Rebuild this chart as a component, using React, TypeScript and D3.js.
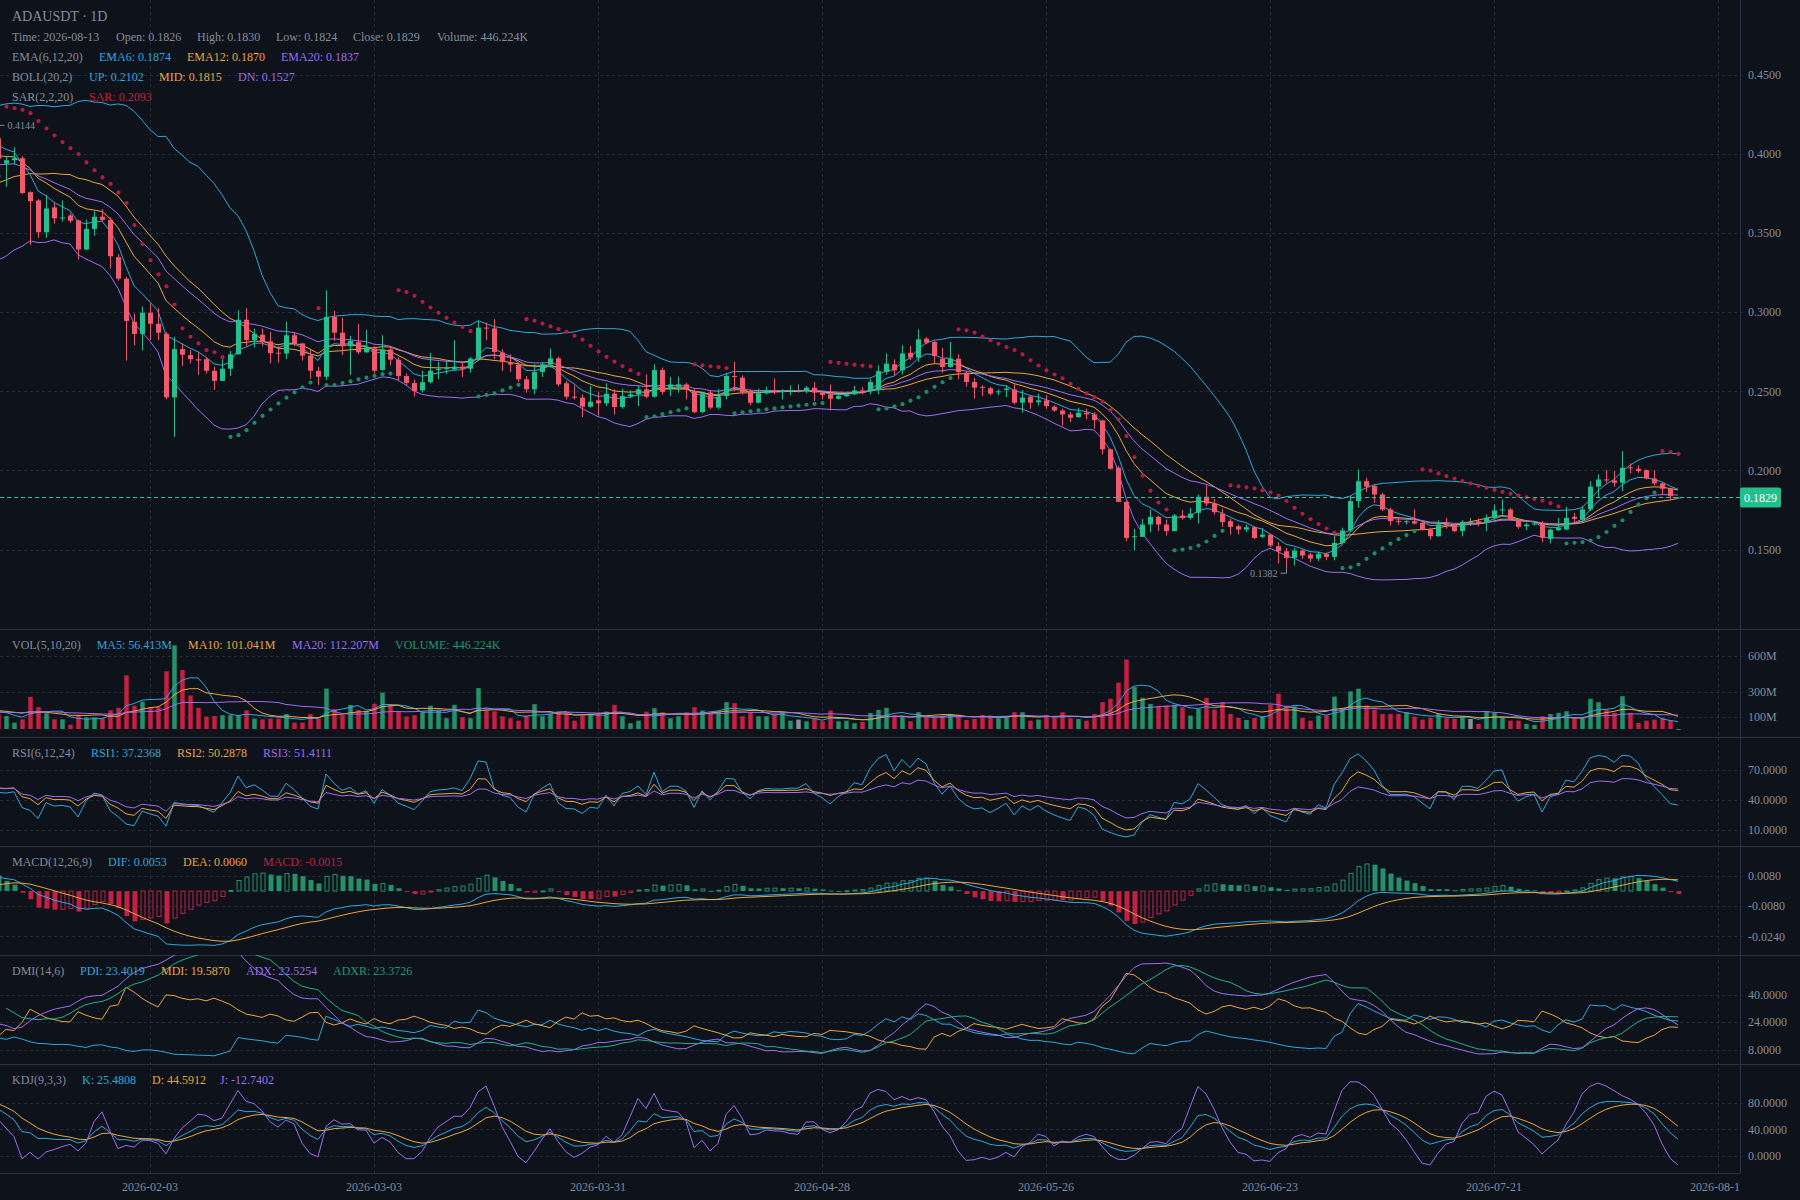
import React, { useMemo } from "react";
import * as d3 from "d3";

// ---------------- DATA ----------------
const SYMBOL = "ADAUSDT · 1D";
const START_DATE = "2026-01-15"; // first candle of the visible window

// candles before the visible window (indicator warm-up)
const PRE_OPEN = [0.405,0.402,0.398,0.405,0.396,0.390,0.394,0.386,0.380,0.384,0.374,0.366,0.360,0.354,0.358,0.350,0.356,0.364,0.352,0.372,0.362,0.384,0.372,0.396,0.384,0.408,0.396,0.420,0.426,0.414];
const PRE_HIGH = [0.409,0.406,0.409,0.409,0.400,0.398,0.398,0.390,0.388,0.388,0.378,0.370,0.364,0.362,0.362,0.360,0.368,0.366,0.376,0.374,0.388,0.386,0.400,0.398,0.412,0.410,0.424,0.430,0.428,0.418];
const PRE_LOW = [0.398,0.394,0.394,0.392,0.386,0.386,0.382,0.376,0.376,0.370,0.362,0.356,0.350,0.350,0.346,0.346,0.354,0.338,0.349,0.342,0.359,0.354,0.369,0.366,0.381,0.378,0.393,0.416,0.398,0.396];
const PRE_CLOSE = [0.402,0.398,0.405,0.396,0.390,0.394,0.386,0.380,0.384,0.374,0.366,0.360,0.354,0.358,0.350,0.356,0.364,0.352,0.372,0.362,0.384,0.372,0.396,0.384,0.408,0.396,0.420,0.426,0.414,0.411];
const PRE_VOLUME = [110,95,88,102,120,96,90,105,98,115,130,108,125,99,118,140,112,135,150,118,145,160,128,150,170,185,140,165,150,130];

const OPEN = [
0.4100,0.3940,0.3961,0.3974,0.3759,0.3707,0.3506,0.3663,0.3594,0.3612,
0.3581,0.3397,0.3527,0.3604,0.3584,0.3348,0.3212,0.2940,0.2863,0.2997,
0.2927,0.2863,0.2462,0.2767,0.2729,0.2703,0.2703,0.2630,0.2566,0.2643,
0.2734,0.2953,0.2824,0.2858,0.2816,0.2744,0.2739,0.2855,0.2803,0.2726,
0.2630,0.2592,0.2971,0.2871,0.2785,0.2811,0.2747,0.2772,0.2635,0.2765,
0.2700,0.2597,0.2553,0.2506,0.2558,0.2635,0.2643,0.2639,0.2656,0.2643,
0.2707,0.2903,0.2898,0.2745,0.2681,0.2669,0.2576,0.2513,0.2622,0.2671,
0.2709,0.2551,0.2466,0.2460,0.2403,0.2443,0.2424,0.2485,0.2401,0.2470,
0.2481,0.2513,0.2466,0.2635,0.2513,0.2530,0.2544,0.2502,0.2369,0.2492,
0.2397,0.2470,0.2597,0.2587,0.2502,0.2428,0.2487,0.2506,0.2500,0.2502,
0.2506,0.2506,0.2523,0.2492,0.2481,0.2453,0.2470,0.2481,0.2506,0.2502,
0.2508,0.2622,0.2671,0.2633,0.2744,0.2713,0.2833,0.2812,0.2706,0.2654,
0.2706,0.2618,0.2559,0.2529,0.2519,0.2497,0.2508,0.2512,0.2428,0.2466,
0.2432,0.2443,0.2403,0.2379,0.2354,0.2337,0.2365,0.2354,0.2316,0.2133,
0.2017,0.1801,0.1580,0.1580,0.1658,0.1706,0.1658,0.1616,0.1715,0.1700,
0.1732,0.1833,0.1791,0.1727,0.1679,0.1647,0.1626,0.1641,0.1580,0.1594,
0.1521,0.1489,0.1447,0.1494,0.1468,0.1443,0.1472,0.1453,0.1542,0.1620,
0.1806,0.1932,0.1901,0.1848,0.1753,0.1681,0.1675,0.1679,0.1668,0.1626,
0.1584,0.1660,0.1658,0.1616,0.1675,0.1679,0.1675,0.1700,0.1747,0.1753,
0.1685,0.1647,0.1660,0.1664,0.1567,0.1622,0.1626,0.1707,0.1690,0.1753,
0.1897,0.1943,0.1937,0.1922,0.2019,0.2010,0.2002,0.1949,0.1918,0.1884,
0.1826];
const HIGH = [
0.4144,0.3987,0.4043,0.3987,0.3765,0.3715,0.3741,0.3689,0.3707,0.3625,
0.3585,0.3586,0.3638,0.3651,0.3599,0.3367,0.3224,0.2992,0.3036,0.3057,
0.3026,0.2876,0.2845,0.2803,0.2760,0.2747,0.2716,0.2656,0.2703,0.2755,
0.3013,0.3026,0.2896,0.2896,0.2876,0.2785,0.2940,0.2871,0.2806,0.2760,
0.2656,0.3139,0.3010,0.2966,0.2850,0.2927,0.2889,0.2785,0.2855,0.2785,
0.2716,0.2612,0.2574,0.2630,0.2742,0.2686,0.2690,0.2823,0.2686,0.2719,
0.2945,0.2934,0.2956,0.2766,0.2734,0.2681,0.2597,0.2671,0.2686,0.2770,
0.2719,0.2565,0.2538,0.2481,0.2534,0.2498,0.2551,0.2513,0.2517,0.2506,
0.2534,0.2608,0.2671,0.2650,0.2590,0.2593,0.2555,0.2513,0.2496,0.2502,
0.2513,0.2614,0.2686,0.2601,0.2513,0.2517,0.2530,0.2582,0.2513,0.2538,
0.2543,0.2534,0.2559,0.2502,0.2543,0.2481,0.2491,0.2534,0.2527,0.2576,
0.2664,0.2740,0.2702,0.2791,0.2787,0.2892,0.2844,0.2818,0.2776,0.2812,
0.2734,0.2628,0.2586,0.2538,0.2529,0.2512,0.2538,0.2544,0.2508,0.2474,
0.2485,0.2476,0.2411,0.2390,0.2369,0.2396,0.2390,0.2369,0.2322,0.2137,
0.2027,0.1805,0.1630,0.1694,0.1753,0.1715,0.1689,0.1725,0.1749,0.1763,
0.1848,0.1905,0.1820,0.1757,0.1694,0.1658,0.1658,0.1647,0.1637,0.1599,
0.1546,0.1510,0.1510,0.1500,0.1479,0.1489,0.1479,0.1589,0.1637,0.1838,
0.2006,0.1954,0.1911,0.1859,0.1764,0.1700,0.1685,0.1753,0.1679,0.1637,
0.1685,0.1700,0.1664,0.1685,0.1700,0.1696,0.1721,0.1785,0.1816,0.1764,
0.1694,0.1669,0.1679,0.1679,0.1631,0.1700,0.1770,0.1732,0.1774,0.1932,
0.1975,0.2002,0.1996,0.2122,0.2044,0.2032,0.2006,0.2002,0.1922,0.1890,
0.1830];
const LOW = [
0.3950,0.3793,0.3935,0.3749,0.3426,0.3470,0.3470,0.3560,0.3573,0.3565,
0.3333,0.3392,0.3483,0.3573,0.3276,0.3199,0.2695,0.2790,0.2759,0.2824,
0.2824,0.2449,0.2212,0.2661,0.2677,0.2604,0.2612,0.2509,0.2566,0.2597,
0.2734,0.2785,0.2778,0.2785,0.2677,0.2682,0.2705,0.2785,0.2695,0.2579,
0.2540,0.2571,0.2819,0.2729,0.2604,0.2734,0.2742,0.2612,0.2630,0.2664,
0.2571,0.2540,0.2468,0.2493,0.2550,0.2576,0.2610,0.2629,0.2591,0.2618,
0.2692,0.2823,0.2703,0.2629,0.2622,0.2559,0.2492,0.2481,0.2591,0.2650,
0.2530,0.2449,0.2449,0.2337,0.2397,0.2348,0.2407,0.2354,0.2390,0.2456,
0.2407,0.2456,0.2460,0.2481,0.2470,0.2492,0.2449,0.2361,0.2361,0.2386,
0.2386,0.2449,0.2502,0.2481,0.2411,0.2424,0.2481,0.2481,0.2449,0.2475,
0.2492,0.2487,0.2439,0.2449,0.2386,0.2449,0.2464,0.2477,0.2481,0.2481,
0.2481,0.2607,0.2601,0.2607,0.2698,0.2685,0.2797,0.2677,0.2618,0.2649,
0.2576,0.2529,0.2455,0.2470,0.2474,0.2476,0.2464,0.2417,0.2365,0.2390,
0.2411,0.2390,0.2371,0.2284,0.2305,0.2333,0.2322,0.2263,0.2101,0.2006,
0.1799,0.1552,0.1495,0.1580,0.1609,0.1616,0.1588,0.1616,0.1689,0.1689,
0.1664,0.1774,0.1721,0.1643,0.1595,0.1595,0.1611,0.1567,0.1573,0.1516,
0.1411,0.1382,0.1398,0.1441,0.1420,0.1426,0.1432,0.1432,0.1542,0.1610,
0.1764,0.1863,0.1795,0.1743,0.1652,0.1658,0.1658,0.1658,0.1622,0.1563,
0.1580,0.1631,0.1610,0.1584,0.1648,0.1648,0.1616,0.1690,0.1721,0.1685,
0.1631,0.1622,0.1652,0.1546,0.1538,0.1616,0.1622,0.1669,0.1685,0.1743,
0.1827,0.1922,0.1897,0.1869,0.1981,0.1985,0.1943,0.1905,0.1848,0.1812,
0.1824];
const CLOSE = [
0.3970,0.3961,0.3974,0.3754,0.3702,0.3506,0.3656,0.3594,0.3599,0.3578,
0.3397,0.3527,0.3604,0.3584,0.3354,0.3212,0.2945,0.2863,0.2997,0.2927,
0.2870,0.2462,0.2767,0.2731,0.2703,0.2695,0.2630,0.2566,0.2643,0.2734,
0.2953,0.2824,0.2863,0.2811,0.2741,0.2739,0.2855,0.2803,0.2726,0.2630,
0.2592,0.2971,0.2871,0.2785,0.2819,0.2747,0.2778,0.2630,0.2765,0.2700,
0.2597,0.2553,0.2501,0.2558,0.2630,0.2643,0.2647,0.2656,0.2643,0.2707,
0.2903,0.2898,0.2749,0.2686,0.2669,0.2576,0.2513,0.2622,0.2671,0.2709,
0.2544,0.2466,0.2462,0.2403,0.2434,0.2424,0.2485,0.2401,0.2470,0.2481,
0.2513,0.2466,0.2635,0.2496,0.2544,0.2544,0.2513,0.2369,0.2487,0.2397,
0.2466,0.2597,0.2593,0.2492,0.2428,0.2487,0.2506,0.2502,0.2502,0.2506,
0.2506,0.2523,0.2492,0.2477,0.2453,0.2470,0.2481,0.2506,0.2502,0.2559,
0.2628,0.2675,0.2633,0.2740,0.2713,0.2829,0.2808,0.2723,0.2654,0.2706,
0.2622,0.2559,0.2523,0.2527,0.2485,0.2500,0.2517,0.2428,0.2460,0.2428,
0.2443,0.2407,0.2379,0.2354,0.2333,0.2365,0.2354,0.2318,0.2133,0.2010,
0.1801,0.1573,0.1584,0.1658,0.1706,0.1658,0.1616,0.1715,0.1700,0.1727,
0.1833,0.1791,0.1736,0.1673,0.1643,0.1626,0.1641,0.1573,0.1594,0.1525,
0.1489,0.1447,0.1493,0.1462,0.1443,0.1472,0.1453,0.1542,0.1620,0.1806,
0.1932,0.1897,0.1848,0.1753,0.1679,0.1677,0.1679,0.1664,0.1626,0.1584,
0.1658,0.1656,0.1616,0.1675,0.1675,0.1668,0.1700,0.1747,0.1753,0.1690,
0.1643,0.1658,0.1664,0.1574,0.1626,0.1637,0.1700,0.1694,0.1753,0.1897,
0.1943,0.1939,0.1922,0.2017,0.2015,0.1996,0.1949,0.1918,0.1884,0.1837,
0.1829];
const VOLUME = [ // millions
120,106,52,79,263,179,129,79,79,35,
113,95,95,85,153,173,438,190,223,179,
179,471,683,481,274,173,102,106,113,113,
113,153,85,79,85,85,122,52,52,122,
85,330,163,113,196,156,146,206,297,196,
139,102,113,136,190,151,88,197,96,88,
334,151,145,104,88,68,110,203,104,123,
142,137,68,110,123,123,142,197,104,47,
68,142,170,137,88,104,137,178,151,129,
142,219,211,104,137,104,104,123,137,68,
77,63,88,63,151,63,68,47,58,131,
156,173,115,101,63,137,96,96,110,123,
110,74,82,115,101,88,96,137,137,68,
77,115,96,137,88,82,68,123,219,247,
378,567,342,255,205,186,192,197,178,110,
164,255,159,219,123,90,74,90,104,197,
288,192,185,90,68,110,110,265,170,307,
329,192,159,123,123,123,137,101,77,90,
123,88,82,104,82,41,142,132,96,68,
68,41,33,104,123,132,145,88,90,247,
219,156,132,268,132,49,68,77,88,68,
0.446];

const TICK_DATES = ["2026-02-03","2026-03-03","2026-03-31","2026-04-28","2026-05-26","2026-06-23","2026-07-21","2026-08-18"];
const PRICE_TICKS = [0.15,0.20,0.25,0.30,0.35,0.40,0.45];
const VOL_TICKS = [100,300,600];
const RSI_TICKS = [10,40,70];
const MACD_TICKS = [0.008,-0.008,-0.024];
const DMI_TICKS = [8,24,40];
const KDJ_TICKS = [0,40,80];

const INFO_ROW = ["Time: 2026-08-13","Open: 0.1826","High: 0.1830","Low: 0.1824","Close: 0.1829","Volume: 446.224K"];
const EMA_ROW = ["EMA(6,12,20)","EMA6: 0.1874","EMA12: 0.1870","EMA20: 0.1837"];
const BOLL_ROW = ["BOLL(20,2)","UP: 0.2102","MID: 0.1815","DN: 0.1527"];
const SAR_ROW = ["SAR(2,2,20)","SAR: 0.2093"];
const VOL_ROW = ["VOL(5,10,20)","MA5: 56.413M","MA10: 101.041M","MA20: 112.207M","VOLUME: 446.224K"];
const RSI_ROW = ["RSI(6,12,24)","RSI1: 37.2368","RSI2: 50.2878","RSI3: 51.4111"];
const MACD_ROW = ["MACD(12,26,9)","DIF: 0.0053","DEA: 0.0060","MACD: -0.0015"];
const DMI_ROW = ["DMI(14,6)","PDI: 23.4019","MDI: 19.5870","ADX: 22.5254","ADXR: 23.3726"];
const KDJ_ROW = ["KDJ(9,3,3)","K: 25.4808","D: 44.5912","J: -12.7402"];

// ---------------- STYLE ----------------
const FONT = "'Liberation Serif', 'Times New Roman', serif";
const BG = "#0d121b";
const TXT = "#858d9b";
const GRID = "#222a38";
const SEP = "#2b3342";
const UP = "#24c08f";
const DOWN = "#ef5a6e";
const FLAT = "#8a8f99";
const VUP = "#23916a";
const VDOWN = "#c32142";
const BLUE = "#2fa8dc";
const ORANGE = "#eba53d";
const PURPLE = "#9d6df0";
const GREEN = "#1fb088";
const RED_T = "#c4213f";
const GREEN_T = "#1d9a72";

const PLOT_R = 1740;
const PANES = {
  main: [0, 629], vol: [629, 737], rsi: [737, 846], macd: [846, 955], dmi: [955, 1064], kdj: [1064, 1173],
};

// ---------------- INDICATORS ----------------
type N = number | null;
function sma(a: number[], n: number): N[] {
  return a.map((_, i) => (i < n - 1 ? null : d3.mean(a.slice(i - n + 1, i + 1))!));
}
function ema(a: number[], n: number): number[] {
  const out: number[] = [];
  a.forEach((v, i) => out.push(i === 0 ? v : (2 * v + (n - 1) * out[i - 1]) / (n + 1)));
  return out;
}
function stdw(a: number[], n: number, mean: N[]): N[] {
  return a.map((_, i) => {
    if (i < n - 1) return null;
    const m = mean[i] as number;
    let s = 0;
    for (let j = i - n + 1; j <= i; j++) s += (a[j] - m) ** 2;
    return Math.sqrt(s / n);
  });
}
// Wilder-smoothed RSI
function rsi(c: number[], n: number): N[] {
  let ag = 0, al = 0;
  return c.map((v, i) => {
    if (i === 0) return null;
    const dlt = v - c[i - 1];
    ag = (ag * (n - 1) + Math.max(dlt, 0)) / n;
    al = (al * (n - 1) + Math.max(-dlt, 0)) / n;
    if (i < n) return null;
    return ag + al === 0 ? 50 : (ag / (ag + al)) * 100;
  });
}
// Parabolic SAR (Wilder)
function psar(H: number[], L: number[], start = 0.02, step = 0.02, max = 0.2) {
  const out: { v: number; up: boolean }[] = [];
  let up = true, af = start, ep = H[0], s = L[0];
  out.push({ v: s, up });
  for (let k = 1; k < H.length; k++) {
    s = s + af * (ep - s);
    if (up) {
      s = Math.min(s, L[k - 1], L[Math.max(0, k - 2)]);
      if (L[k] < s) { up = false; s = ep; ep = L[k]; af = start; }
      else if (H[k] > ep) { ep = H[k]; af = Math.min(af + step, max); }
    } else {
      s = Math.max(s, H[k - 1], H[Math.max(0, k - 2)]);
      if (H[k] > s) { up = true; s = ep; ep = H[k]; af = start; }
      else if (L[k] < ep) { ep = L[k]; af = Math.min(af + step, max); }
    }
    out.push({ v: s, up });
  }
  return out;
}

function compute() {
  const O = [...PRE_OPEN, ...OPEN];
  const Hh = [...PRE_HIGH, ...HIGH];
  const Ll = [...PRE_LOW, ...LOW];
  const C = [...PRE_CLOSE, ...CLOSE];
  const V = [...PRE_VOLUME, ...VOLUME];
  const n = C.length;

  const ema6 = ema(C, 6), ema12 = ema(C, 12), ema20 = ema(C, 20);
  const mid = sma(C, 20);
  const sd = stdw(C, 20, mid);
  const bup = mid.map((m, i) => (m == null ? null : m + 2 * (sd[i] as number)));
  const bdn = mid.map((m, i) => (m == null ? null : m - 2 * (sd[i] as number)));
  const sar = psar(Hh, Ll);

  const vma5 = sma(V, 5), vma10 = sma(V, 10), vma20 = sma(V, 20);
  const rsi6 = rsi(C, 6), rsi12 = rsi(C, 12), rsi24 = rsi(C, 24);

  const e12 = ema(C, 12), e26 = ema(C, 26);
  const dif = e12.map((v, i) => v - e26[i]);
  const dea = ema(dif, 9);
  const macd = dif.map((v, i) => (v - dea[i]) * 2);

  // DMI (Wilder smoothing)
  const P1 = 14, P2 = 6;
  const pdi: N[] = [], mdi: N[] = [], adx: N[] = [], adxr: N[] = [];
  let trSum = 0, hSum = 0, lSum = 0, mtr = 0, dmp = 0, dmm = 0, dxSum = 0, ad = 0;
  for (let i = 0; i < n; i++) {
    pdi.push(null); mdi.push(null); adx.push(null); adxr.push(null);
    if (i === 0) continue;
    const pc = C[i - 1];
    const tr = Math.max(Hh[i] - Ll[i], Math.abs(Hh[i] - pc), Math.abs(pc - Ll[i]));
    const hd = Hh[i] - Hh[i - 1], ld = Ll[i - 1] - Ll[i];
    const h = hd > 0 && hd > ld ? hd : 0;
    const l = ld > 0 && ld > hd ? ld : 0;
    trSum += tr; hSum += h; lSum += l;
    if (i >= P1 - 1) {
      if (i > P1 - 1) { mtr = mtr - mtr / P1 + tr; dmp = dmp - dmp / P1 + h; dmm = dmm - dmm / P1 + l; }
      else { mtr = trSum; dmp = hSum; dmm = lSum; }
      const p = mtr ? (dmp * 100) / mtr : 0, m = mtr ? (dmm * 100) / mtr : 0;
      pdi[i] = p; mdi[i] = m;
      const dx = p + m ? (Math.abs(m - p) / (p + m)) * 100 : 0;
      dxSum += dx;
      if (i >= P1 * 2 - 2) {
        if (i > P1 * 2 - 2) ad = (ad * (P2 - 1) + dx) / P2;
        else ad = dxSum / P1;
        adx[i] = ad;
        if (i >= P1 * 2 + P2 - 3 && adx[i - (P2 - 1)] != null) adxr[i] = ((adx[i - (P2 - 1)] as number) + ad) / 2;
      }
    }
  }

  const K: N[] = [], D: N[] = [], J: N[] = [];
  let kv = 50, dv = 50;
  for (let i = 0; i < n; i++) {
    if (i < 8) { K.push(null); D.push(null); J.push(null); continue; }
    const hh = d3.max(Hh.slice(i - 8, i + 1))!, ll = d3.min(Ll.slice(i - 8, i + 1))!;
    const rsv = hh === ll ? 50 : ((C[i] - ll) / (hh - ll)) * 100;
    kv = (2 * kv + rsv) / 3;
    dv = (2 * dv + kv) / 3;
    K.push(kv); D.push(dv); J.push(3 * kv - 2 * dv);
  }

  return { O, Hh, Ll, C, V, n, ema6, ema12, ema20, mid, bup, bdn, sar, vma5, vma10, vma20, rsi6, rsi12, rsi24, dif, dea, macd, pdi, mdi, adx, adxr, K, D, J };
}

// ---------------- COMPONENT ----------------
export default function App() {
  const d = useMemo(() => compute(), []);
  const PRE = PRE_CLOSE.length;
  const parse = d3.utcParse("%Y-%m-%d");
  const start = parse(START_DATE)!;
  const dates = d.C.map((_, k) => d3.utcDay.offset(start, k - PRE));
  const x = d3.scaleUtc().domain([start, d3.utcDay.offset(start, CLOSE.length - 1)]).range([-2, 1678]);
  const xk = (k: number) => x(dates[k]);

  const yP = d3.scaleLinear().domain([0.15, 0.45]).range([549.5, 75]);
  const yV = d3.scaleLinear().domain([0, 600]).range([729, 655.5]);
  const yR = d3.scaleLinear().domain([10, 70]).range([830, 770]);
  const yM = d3.scaleLinear().domain([-0.024, 0.008]).range([936.3, 876]);
  const yD = d3.scaleLinear().domain([8, 40]).range([1049.6, 994.6]);
  const yK = d3.scaleLinear().domain([0, 80]).range([1156, 1102.7]);

  const path = (vals: N[] | number[], y: (v: number) => number) =>
    d3.line<N>().defined((v) => v != null && !isNaN(v as number)).x((_, i) => xk(i)).y((v) => y(v as number))(vals as N[]) || "";

  const idx = d3.range(d.n);
  const tickX = TICK_DATES.map((s) => x(parse(s)!));

  const hGrid = (ticks: number[], y: (v: number) => number, key: string) =>
    ticks.map((t) => (
      <line key={key + t} x1={0} x2={PLOT_R + 4} y1={Math.round(y(t)) + 0.5} y2={Math.round(y(t)) + 0.5} stroke={GRID} strokeDasharray="3 3" />
    ));
  const axisLabels = (ticks: number[], y: (v: number) => number, fmt: (v: number) => string, key: string) =>
    ticks.map((t) => (
      <text key={key + t} x={1748} y={y(t)} dy="0.35em" fill={TXT} fontSize={12}>{fmt(t)}</text>
    ));

  const legend = (items: string[], xs: number[], colors: string[], y: number) =>
    items.map((s, i) => (
      <text key={s} x={xs[i]} y={y} fill={colors[i]} fontSize={12}>{s}</text>
    ));

  const clip = (id: string, r: number[]) => (
    <clipPath id={id}><rect x={0} y={r[0]} width={PLOT_R} height={r[1] - r[0]} /></clipPath>
  );

  // high / low markers over visible window
  const vis = d3.range(PRE, d.n);
  const hiK = vis.reduce((a, b) => (d.Hh[b] > d.Hh[a] ? b : a), vis[0]);
  const loK = vis.reduce((a, b) => (d.Ll[b] < d.Ll[a] ? b : a), vis[0]);
  const hiX = xk(hiK) + 0.5, hiY = yP(d.Hh[hiK]);
  const loX = xk(loK) + 0.5, loY = yP(d.Ll[loK]);
  const last = d.n - 1;
  const lastY = Math.round(yP(d.C[last])) + 0.5;

  const candleColor = (k: number) => (d.C[k] > d.O[k] ? UP : d.C[k] < d.O[k] ? DOWN : FLAT);
  const volColor = (k: number) => (d.C[k] > d.O[k] ? VUP : d.C[k] < d.O[k] ? VDOWN : FLAT);

  return (
    <svg width={1800} height={1200} style={{ position: "absolute", left: 0, top: 0, display: "block" }} fontFamily={FONT}>
      <defs>
        {clip("cMain", PANES.main)}
        {clip("cVol", PANES.vol)}
        {clip("cRsi", PANES.rsi)}
        {clip("cMacd", PANES.macd)}
        {clip("cDmi", PANES.dmi)}
        {clip("cKdj", PANES.kdj)}
        <clipPath id="cX"><rect x={0} y={1174} width={PLOT_R} height={26} /></clipPath>
      </defs>
      <rect x={0} y={0} width={1800} height={1200} fill={BG} />

      {/* grids */}
      {tickX.map((tx, i) => (
        <line key={"vg" + i} x1={Math.round(tx) + 0.5} x2={Math.round(tx) + 0.5} y1={0} y2={1173} stroke={GRID} strokeDasharray="3 3" />
      ))}
      {hGrid(PRICE_TICKS, yP, "gp")}
      {hGrid(VOL_TICKS, yV, "gv")}
      {hGrid(RSI_TICKS, yR, "gr")}
      {hGrid(MACD_TICKS, yM, "gm")}
      {hGrid(DMI_TICKS, yD, "gd")}
      {hGrid(KDJ_TICKS, yK, "gk")}

      {/* separators */}
      {[629, 737, 846, 955, 1064].map((y) => (
        <line key={"sep" + y} x1={0} x2={1800} y1={y + 0.5} y2={y + 0.5} stroke={SEP} />
      ))}
      <line x1={0} x2={PLOT_R} y1={1173.5} y2={1173.5} stroke={SEP} />
      <line x1={PLOT_R + 0.5} x2={PLOT_R + 0.5} y1={0} y2={1173.5} stroke={SEP} />

      {/* MAIN PANE */}
      <g clipPath="url(#cMain)">
        <path d={path(d.bup, yP)} fill="none" stroke={BLUE} strokeWidth={1} />
        <path d={path(d.mid, yP)} fill="none" stroke={ORANGE} strokeWidth={1} />
        <path d={path(d.bdn, yP)} fill="none" stroke={PURPLE} strokeWidth={1} />
        <path d={path(d.ema6, yP)} fill="none" stroke={BLUE} strokeWidth={1} />
        <path d={path(d.ema12, yP)} fill="none" stroke={ORANGE} strokeWidth={1} />
        <path d={path(d.ema20, yP)} fill="none" stroke={PURPLE} strokeWidth={1} />
        {idx.map((k) => {
          const col = candleColor(k);
          const cx = xk(k);
          const yt = yP(Math.max(d.O[k], d.C[k]));
          const yb = yP(Math.min(d.O[k], d.C[k]));
          return (
            <g key={"c" + k}>
              <line x1={cx + 0.5} x2={cx + 0.5} y1={yP(d.Hh[k])} y2={yP(d.Ll[k])} stroke={col} strokeWidth={1} />
              <rect x={cx - 2} y={yt} width={5} height={Math.max(1, yb - yt)} fill={col} />
            </g>
          );
        })}
        {d.sar.map((s, k) => (
          <circle key={"s" + k} cx={xk(k) + 0.5} cy={yP(s.v)} r={2.1} fill={s.up ? "#1d8a62" : "#b71a3d"} />
        ))}
        <line x1={0} x2={PLOT_R} y1={lastY} y2={lastY} stroke="#33c3a1" strokeDasharray="4 3" />
        {/* high marker */}
        <polyline points={`${hiX},${hiY} ${hiX},${hiY - 6} ${hiX + 6},${hiY - 6}`} fill="none" stroke={TXT} />
        <text x={hiX + 9} y={hiY - 6} dy="0.35em" fill={TXT} fontSize={10}>{d.Hh[hiK].toFixed(4)}</text>
        {/* low marker */}
        <polyline points={`${loX},${loY} ${loX},${loY + 5} ${loX - 6},${loY + 5}`} fill="none" stroke={TXT} />
        <text x={loX - 9} y={loY + 5} dy="0.35em" textAnchor="end" fill={TXT} fontSize={10}>{d.Ll[loK].toFixed(4)}</text>
      </g>

      {/* VOLUME PANE */}
      <g clipPath="url(#cVol)">
        {idx.map((k) => (
          <rect key={"v" + k} x={xk(k) - 1.75} y={yV(d.V[k])} width={4.5} height={Math.max(1, yV(0) - yV(d.V[k]))} fill={volColor(k)} />
        ))}
        <path d={path(d.vma5, yV)} fill="none" stroke={BLUE} />
        <path d={path(d.vma10, yV)} fill="none" stroke={ORANGE} />
        <path d={path(d.vma20, yV)} fill="none" stroke={PURPLE} />
      </g>

      {/* RSI PANE */}
      <g clipPath="url(#cRsi)">
        <path d={path(d.rsi6, yR)} fill="none" stroke={BLUE} />
        <path d={path(d.rsi12, yR)} fill="none" stroke={ORANGE} />
        <path d={path(d.rsi24, yR)} fill="none" stroke={PURPLE} />
      </g>

      {/* MACD PANE */}
      <g clipPath="url(#cMacd)">
        {idx.map((k) => {
          const v = d.macd[k];
          const prev = k > 0 ? d.macd[k - 1] : -Infinity;
          const col = v > 0 ? "#23916a" : v < 0 ? "#c32142" : FLAT;
          const y0 = yM(0), y1 = yM(v);
          const top = Math.min(y0, y1), h = Math.max(1, Math.abs(y1 - y0));
          const hollow = prev < v;
          return hollow ? (
            <rect key={"m" + k} x={xk(k) - 1} y={top} width={4} height={h} fill="none" stroke={col} strokeWidth={1} />
          ) : (
            <rect key={"m" + k} x={xk(k) - 1.5} y={top} width={5} height={h} fill={col} />
          );
        })}
        <path d={path(d.dif, yM)} fill="none" stroke={BLUE} />
        <path d={path(d.dea, yM)} fill="none" stroke={ORANGE} />
      </g>

      {/* DMI PANE */}
      <g clipPath="url(#cDmi)">
        <path d={path(d.pdi, yD)} fill="none" stroke={BLUE} />
        <path d={path(d.mdi, yD)} fill="none" stroke={ORANGE} />
        <path d={path(d.adx, yD)} fill="none" stroke={PURPLE} />
        <path d={path(d.adxr, yD)} fill="none" stroke={GREEN} />
      </g>

      {/* KDJ PANE */}
      <g clipPath="url(#cKdj)">
        <path d={path(d.K, yK)} fill="none" stroke={BLUE} />
        <path d={path(d.D, yK)} fill="none" stroke={ORANGE} />
        <path d={path(d.J, yK)} fill="none" stroke={PURPLE} />
      </g>

      {/* right axes */}
      {axisLabels(PRICE_TICKS, yP, (v) => v.toFixed(4), "ap")}
      {axisLabels(VOL_TICKS, yV, (v) => `${v}M`, "av")}
      {axisLabels(RSI_TICKS, yR, (v) => v.toFixed(4), "ar")}
      {axisLabels(MACD_TICKS, yM, (v) => v.toFixed(4), "am")}
      {axisLabels(DMI_TICKS, yD, (v) => v.toFixed(4), "ad")}
      {axisLabels(KDJ_TICKS, yK, (v) => v.toFixed(4), "ak")}

      {/* last price label */}
      <rect x={PLOT_R} y={lastY - 10} width={41} height={20} rx={2} fill="#20c08d" />
      <text x={PLOT_R + 20.5} y={lastY} dy="0.35em" textAnchor="middle" fill="#ffffff" fontSize={12}>{d.C[last].toFixed(4)}</text>

      {/* x axis labels */}
      <g clipPath="url(#cX)">
        {TICK_DATES.map((s, i) => (
          <text key={"xt" + s} x={tickX[i]} y={1191} textAnchor="middle" fill={TXT} fontSize={12}>{s}</text>
        ))}
      </g>

      {/* legends */}
      <text x={12} y={21} fill={TXT} fontSize={14}>{SYMBOL}</text>
      {legend(INFO_ROW, [12, 116, 197, 276, 353, 437], [TXT, TXT, TXT, TXT, TXT, TXT], 41)}
      {legend(EMA_ROW, [12, 99, 187, 281], [TXT, BLUE, ORANGE, PURPLE], 61)}
      {legend(BOLL_ROW, [12, 89, 159, 238], [TXT, BLUE, ORANGE, PURPLE], 81)}
      {legend(SAR_ROW, [12, 89], [TXT, RED_T], 101)}
      {legend(VOL_ROW, [12, 96.7, 188, 292, 395], [TXT, BLUE, ORANGE, PURPLE, GREEN_T], 649)}
      {legend(RSI_ROW, [12, 91, 177, 263], [TXT, BLUE, ORANGE, PURPLE], 757)}
      {legend(MACD_ROW, [12, 108, 183, 263], [TXT, BLUE, ORANGE, RED_T], 866)}
      {legend(DMI_ROW, [12, 80, 161, 246, 333], [TXT, BLUE, ORANGE, PURPLE, GREEN_T], 975)}
      {legend(KDJ_ROW, [12, 82, 152, 220], [TXT, BLUE, ORANGE, PURPLE], 1084)}
    </svg>
  );
}
